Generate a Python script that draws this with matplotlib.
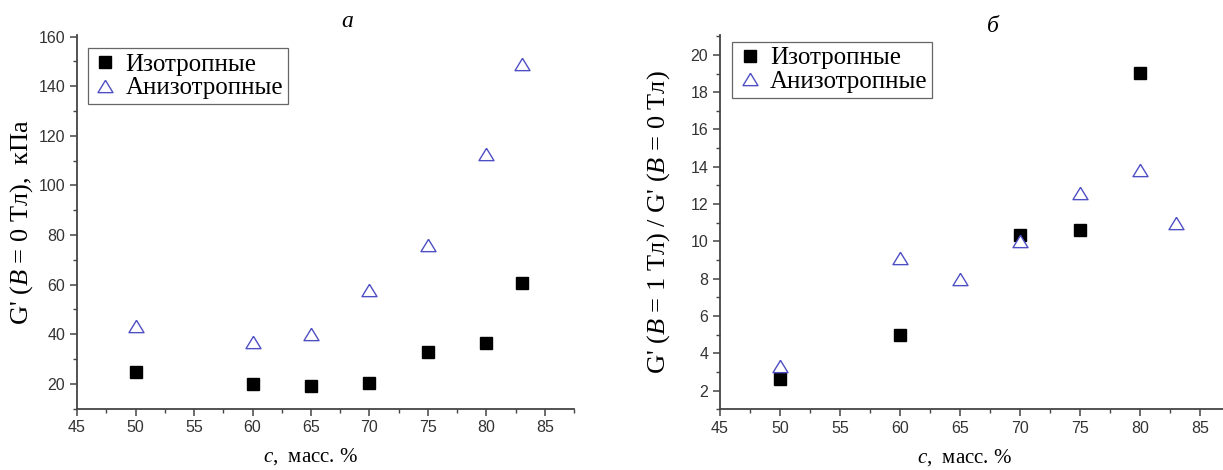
import matplotlib
matplotlib.use('Agg')
import matplotlib.pyplot as plt
from matplotlib.ticker import MultipleLocator

plt.rcParams['mathtext.fontset'] = 'custom'
plt.rcParams['mathtext.rm'] = 'Liberation Serif'
plt.rcParams['mathtext.it'] = 'Liberation Serif:italic'

# panel a: G' at B = 0, kPa
conc_a_iso = [50, 60, 65, 70, 75, 80, 83]
g_a_iso = [24.6, 19.9, 19.1, 20.2, 32.8, 36.3, 60.5]
conc_a_aniso = [50, 60, 65, 70, 75, 80, 83]
g_a_aniso = [43.5, 36.9, 40.0, 58.0, 76.0, 112.5, 149.0]

# panel b: G'(B = 1 T) / G'(B = 0 T)
conc_b_iso = [50, 60, 70, 75, 80]
ratio_b_iso = [2.64, 4.96, 10.36, 10.6, 19.05]
conc_b_aniso = [50, 60, 65, 70, 75, 80, 83]
ratio_b_aniso = [3.3, 9.1, 8.0, 10.0, 12.6, 13.85, 11.0]

label_iso = 'Изотропные'
label_aniso = 'Анизотропные'

serif = 'Liberation Serif'
sans = 'Liberation Sans'
tri = [(0, 0.82), (-1, -0.82), (1, -0.82), (0, 0.82)]
tri_color = '#4f4fc4'
axis_color = '#444444'

fig = plt.figure(figsize=(12.23, 4.70), dpi=100)
ax_a = fig.add_axes([0.063, 0.1306, 0.4065, 0.795])
ax_b = fig.add_axes([0.5887, 0.129, 0.417, 0.796])


def style(ax, xlim, ylim, yticks, ymin):
    ax.set_xlim(*xlim)
    ax.set_ylim(*ylim)
    ax.xaxis.set_major_locator(MultipleLocator(5))
    ax.xaxis.set_minor_locator(MultipleLocator(2.5))
    ax.set_yticks(yticks)
    ax.yaxis.set_minor_locator(MultipleLocator(ymin))
    for s in ['top', 'right']:
        ax.spines[s].set_visible(False)
    for s in ['left', 'bottom']:
        ax.spines[s].set_color(axis_color)
        ax.spines[s].set_linewidth(1.3)
    ax.tick_params(which='major', direction='out', length=5, width=1.1,
                   color=axis_color, labelcolor='#333333', labelsize=11.5)
    ax.tick_params(which='minor', direction='out', length=3, width=1.0,
                   color=axis_color)
    for t in ax.get_xticklabels() + ax.get_yticklabels():
        t.set_family(sans)


def points(ax, xi, yi, xa, ya):
    ax.plot(xi, yi, linestyle='none', marker='s', markersize=8.4,
            color='black', label=label_iso, clip_on=False)
    ax.plot(xa, ya, linestyle='none', marker=tri, markersize=10.8,
            markerfacecolor='white', markeredgecolor=tri_color,
            markeredgewidth=1.0, label=label_aniso, clip_on=False)


points(ax_a, conc_a_iso, g_a_iso, conc_a_aniso, g_a_aniso)
style(ax_a, (45, 87.5), (10, 160.7), [20, 40, 60, 80, 100, 120, 140, 160], 10)
ax_a.set_xlabel('$c$,  масс. %', family=serif, fontsize=15)
ax_a.set_ylabel("G' ($B$ = 0 Тл),  кПа", family=serif, fontsize=19)
ax_a.xaxis.set_label_coords(0.47, -0.1)
ax_a.yaxis.set_label_coords(-0.084, 0.5)

points(ax_b, conc_b_iso, ratio_b_iso, conc_b_aniso, ratio_b_aniso)
style(ax_b, (45, 87.5), (1, 21.05), list(range(2, 21, 2)), 1)
ax_b.set_xlabel('$c$,  масс. %', family=serif, fontsize=15)
ax_b.set_ylabel("G' ($B$ = 1 Тл) / G' ($B$ = 0 Тл)", family=serif, fontsize=19)
ax_b.xaxis.set_label_coords(0.48, -0.1)
ax_b.yaxis.set_label_coords(-0.094, 0.5)

for ax, anchor in [(ax_a, (0.022, 0.965)), (ax_b, (0.024, 0.982))]:
    leg = ax.legend(loc='upper left', bbox_to_anchor=anchor, frameon=True,
                    fancybox=False, edgecolor='#666666', framealpha=1,
                    borderpad=0.2, handlelength=1.0, handletextpad=0.3,
                    labelspacing=0.05, borderaxespad=0,
                    prop={'family': serif, 'size': 18})
    leg.get_frame().set_linewidth(0.9)

fig.text(0.284, 0.954, 'a', family=serif, style='italic', fontsize=17,
         ha='center', va='center')
fig.text(0.812, 0.944, 'б', family=serif, style='italic', fontsize=17,
         ha='center', va='center')

fig.savefig('out.png', dpi=100)
